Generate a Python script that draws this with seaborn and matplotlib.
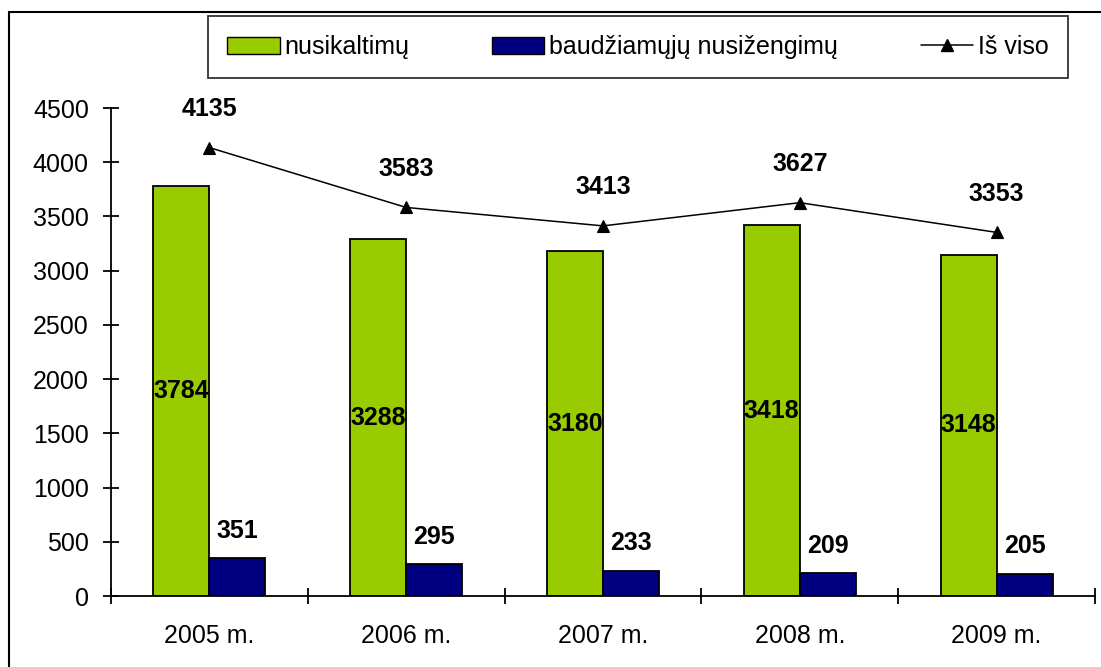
import matplotlib
matplotlib.use("Agg")
import matplotlib.pyplot as plt
from matplotlib.patches import Rectangle, Patch
from matplotlib.lines import Line2D
from matplotlib.ticker import FixedLocator, NullFormatter
import seaborn as sns
import pandas as pd

years = ["2005 m.", "2006 m.", "2007 m.", "2008 m.", "2009 m."]
nusikaltimu = [3784, 3288, 3180, 3418, 3148]
nusizengimu = [351, 295, 233, 209, 205]
is_viso = [4135, 3583, 3413, 3627, 3353]
series_names = ["nusikaltimų", "baudžiamųjų nusižengimų", "Iš viso"]
colors = ["#99CC00", "#000080", "#000000"]

sns.set_theme(style="white")
plt.rcParams["font.family"] = ["Liberation Sans", "DejaVu Sans"]
plt.rcParams["text.color"] = "black"
plt.rcParams["axes.labelcolor"] = "black"
plt.rcParams["xtick.color"] = "black"
plt.rcParams["ytick.color"] = "black"

df = pd.DataFrame({
    "year": years * 2,
    "value": nusikaltimu + nusizengimu,
    "series": [series_names[0]] * 5 + [series_names[1]] * 5,
})

fig = plt.figure(figsize=(11.01, 6.67), dpi=100)
ax = fig.add_axes([111 / 1101, 71 / 667, 984 / 1101, 488 / 667])

sns.barplot(data=df, x="year", y="value", hue="series",
            palette=colors[:2], width=0.57, edgecolor="black",
            linewidth=1.3, saturation=1, ax=ax, legend=False)

sns.pointplot(x=years, y=is_viso, color="black", markers="^",
              linewidth=1.1, markersize=9, ax=ax, errorbar=None)

fs = 18
ax.bar_label(ax.containers[0], labels=[str(v) for v in nusikaltimu],
             label_type="center", fontsize=fs, fontweight="bold",
             color="black")
ax.bar_label(ax.containers[1], labels=[str(v) for v in nusizengimu],
             label_type="edge", padding=11, fontsize=fs, fontweight="bold",
             color="black")
for i, v in enumerate(is_viso):
    ax.annotate(str(v), (i, v), xytext=(0, 19), textcoords="offset points",
                ha="center", va="bottom", fontsize=fs, fontweight="bold",
                color="black")

ax.set_xlim(-0.5, 4.5)
ax.set_ylim(0, 4500)
ax.set_yticks(range(0, 4501, 500))
ax.set_xlabel("")
ax.set_ylabel("")
for s in ["top", "right"]:
    ax.spines[s].set_visible(False)
for s in ["left", "bottom"]:
    ax.spines[s].set_color("black")
    ax.spines[s].set_linewidth(1.3)

ax.tick_params(axis="y", direction="inout", length=12, width=1.3,
               labelsize=fs, pad=10, colors="black", left=True)
ax.tick_params(axis="x", which="major", length=0, labelsize=fs, pad=20,
               colors="black")
ax.xaxis.set_minor_locator(FixedLocator([-0.5, 0.5, 1.5, 2.5, 3.5, 4.5]))
ax.xaxis.set_minor_formatter(NullFormatter())
ax.tick_params(axis="x", which="minor", direction="inout", length=12,
               width=1.3, bottom=True, color="black")
ax.grid(False)

# figure border
fig.patches.append(Rectangle((9 / 1101, -0.05), 1.1, 0.05 + (667 - 12) / 667,
                             transform=fig.transFigure, fill=False,
                             edgecolor="black", linewidth=1.5))

handles = [
    Patch(facecolor=colors[0], edgecolor="black", linewidth=1.0),
    Patch(facecolor=colors[1], edgecolor="black", linewidth=1.0),
    Line2D([0], [0], color="black", linewidth=1.1, marker="^",
           markersize=9),
]
leg = fig.legend(handles, series_names, ncol=3, loc="center",
                 bbox_to_anchor=(638 / 1101, 1 - 47 / 667),
                 fontsize=fs, frameon=True, fancybox=False,
                 handlelength=2.1, handleheight=0.7, handletextpad=0.2,
                 columnspacing=3.3, borderpad=0.75)
leg.get_frame().set_edgecolor("black")
leg.get_frame().set_linewidth(1.3)

fig.savefig("out.png", dpi=100)
